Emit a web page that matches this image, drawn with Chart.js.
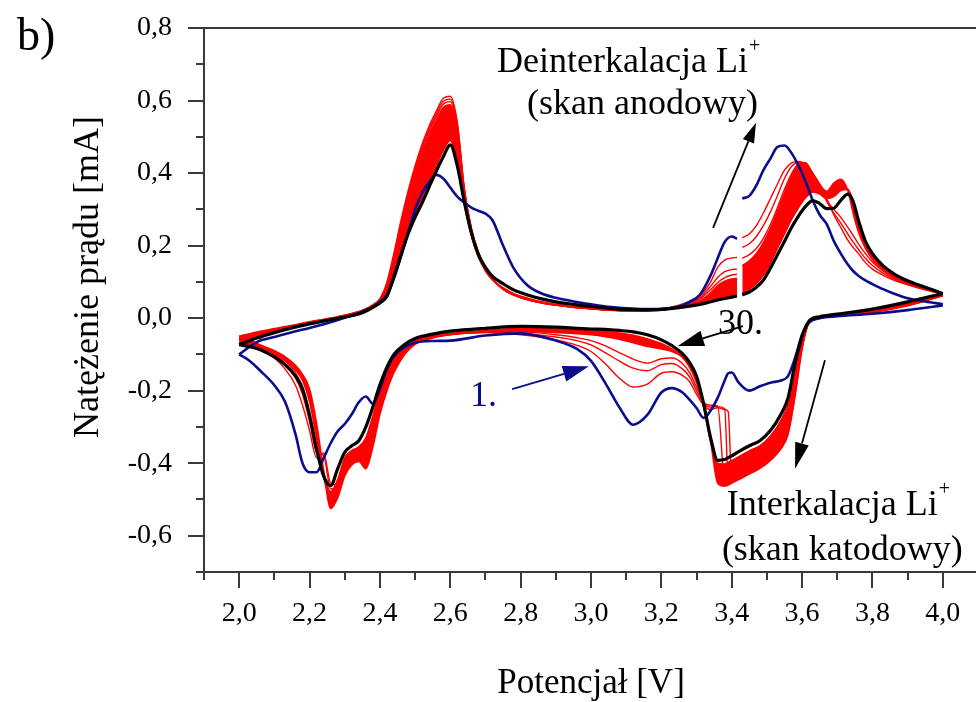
<!DOCTYPE html>
<html>
<head>
<meta charset="utf-8">
<title>Woltamperometria cykliczna</title>
<script src="https://cdn.jsdelivr.net/npm/chart.js@4.4.1/dist/chart.umd.min.js"></script>
<style>
  html, body { margin: 0; padding: 0; background: #fff; overflow: hidden; }
  #wrap { position: relative; width: 1000px; height: 702px; }
</style>
</head>
<body>
<div id="wrap"><canvas id="cv" width="1000" height="702"></canvas></div>
<script>
(function () {
  'use strict';

  // Potential grid [V] of the anodic (upper) branch, null entry = recording gap
  var ANODIC_V = [
    2.00, 2.05, 2.10, 2.15, 2.20, 2.25, 2.30, 2.35, 2.38, 2.40,
    2.42, 2.44, 2.46, 2.48, 2.50, 2.52, 2.54, 2.56, 2.58, 2.60,
    2.62, 2.64, 2.66, 2.68, 2.70, 2.72, 2.75, 2.78, 2.82, 2.86,
    2.90, 2.95, 3.00, 3.05, 3.10, 3.15, 3.20, 3.25, 3.28, 3.31,
    3.34, 3.36, 3.38, 3.40, 3.415, 3.42, 3.43, 3.45, 3.47, 3.49,
    3.51, 3.53, 3.55, 3.57, 3.59, 3.61, 3.63, 3.65, 3.67, 3.69,
    3.71, 3.73, 3.745, 3.76, 3.78, 3.80, 3.83, 3.86, 3.90, 3.95,
    4.00
  ];

  // Potential grid [V] of the cathodic (lower) branch
  var CATHODIC_V = [
    2.00, 2.03, 2.06, 2.10, 2.13, 2.16, 2.18, 2.20, 2.22, 2.24,
    2.26, 2.28, 2.30, 2.32, 2.34, 2.36, 2.38, 2.40, 2.42, 2.44,
    2.47, 2.50, 2.55, 2.60, 2.70, 2.80, 2.90, 2.96, 3.00, 3.04,
    3.08, 3.12, 3.16, 3.20, 3.23, 3.26, 3.28, 3.30, 3.32, 3.34,
    3.36, 3.38, 3.39, 3.40, 3.42, 3.45, 3.48, 3.51, 3.54, 3.56,
    3.58, 3.60, 3.62, 3.65, 3.70, 3.80, 3.90, 4.00
  ];

  // Current [mA] - cycle 1
  var CYCLE1_ANODIC = [
    -0.100, -0.066, -0.052, -0.039, -0.027, -0.014, 0.001, 0.018, 0.030, 0.045,
    0.065, 0.110, 0.170, 0.235, 0.300, 0.345, 0.375, 0.395, 0.385, 0.360,
    0.335, 0.318, 0.305, 0.296, 0.288, 0.270, 0.200, 0.138, 0.090, 0.068,
    0.056, 0.046, 0.038, 0.031, 0.027, 0.025, 0.026, 0.032, 0.045, 0.065,
    0.118, 0.165, 0.210, 0.225, 0.219, null, 0.330, 0.337, 0.366, 0.408,
    0.440, 0.472, 0.476, 0.455, 0.420, 0.377, 0.325, 0.285, 0.259, 0.213,
    0.178, 0.148, 0.130, 0.117, 0.104, 0.094, 0.080, 0.068, 0.055, 0.046,
    0.038
  ];
  var CYCLE1_CATHODIC = [
    -0.100, -0.118, -0.145, -0.185, -0.230, -0.320, -0.400, -0.425, -0.425, -0.386,
    -0.345, -0.312, -0.292, -0.265, -0.232, -0.216, -0.236, -0.195, -0.140, -0.105,
    -0.080, -0.068, -0.063, -0.062, -0.048, -0.042, -0.062, -0.085, -0.118, -0.178,
    -0.245, -0.294, -0.267, -0.205, -0.193, -0.205, -0.225, -0.248, -0.275, -0.255,
    -0.220, -0.172, -0.152, -0.150, -0.178, -0.200, -0.188, -0.178, -0.172, -0.160,
    -0.110, -0.045, -0.012, 0.000, 0.005, 0.012, 0.022, 0.035
  ];

  // Cycles 2-4 (drawn as single thin lines)
  var CYCLE2_ANODIC = [
    -0.060, -0.045, -0.034, -0.024, -0.013, -0.004, 0.006, 0.021, 0.037, 0.054,
    0.100, 0.180, 0.270, 0.350, 0.420, 0.480, 0.530, 0.570, 0.606, 0.612,
    0.540, 0.358, 0.248, 0.182, 0.139, 0.108, 0.080, 0.064, 0.051, 0.042,
    0.036, 0.030, 0.026, 0.022, 0.021, 0.021, 0.026, 0.036, 0.046, 0.062,
    0.100, 0.140, 0.160, 0.166, 0.167, null, 0.222, 0.232, 0.255, 0.290,
    0.330, 0.370, 0.408, 0.428, 0.432, 0.425, 0.400, 0.370, 0.330, 0.285,
    0.250, 0.215, 0.195, 0.178, 0.153, 0.135, 0.118, 0.105, 0.092, 0.078,
    0.066
  ];
  var CYCLE2_CATHODIC = [
    -0.060, -0.072, -0.086, -0.110, -0.140, -0.185, -0.240, -0.310, -0.385, -0.372,
    -0.455, -0.460, -0.425, -0.402, -0.390, -0.385, -0.310, -0.225, -0.165, -0.120,
    -0.085, -0.064, -0.050, -0.045, -0.040, -0.046, -0.060, -0.075, -0.092, -0.125,
    -0.165, -0.190, -0.182, -0.152, -0.148, -0.158, -0.175, -0.210, -0.240, -0.252,
    -0.247, -0.252, -0.258, -0.445, -0.442, -0.425, -0.408, -0.388, -0.356, -0.312,
    -0.200, -0.078, -0.014, 0.000, 0.006, 0.016, 0.034, 0.062
  ];
  var CYCLE3_ANODIC = [
    -0.058, -0.043, -0.033, -0.023, -0.012, -0.003, 0.007, 0.021, 0.036, 0.052,
    0.094, 0.174, 0.262, 0.342, 0.412, 0.472, 0.522, 0.562, 0.598, 0.604,
    0.534, 0.355, 0.247, 0.181, 0.139, 0.108, 0.080, 0.064, 0.051, 0.042,
    0.036, 0.030, 0.026, 0.022, 0.020, 0.020, 0.024, 0.033, 0.042, 0.057,
    0.088, 0.112, 0.128, 0.134, 0.135, null, 0.195, 0.205, 0.225, 0.255,
    0.293, 0.338, 0.385, 0.418, 0.430, 0.426, 0.400, 0.365, 0.322, 0.290,
    0.262, 0.232, 0.210, 0.190, 0.165, 0.145, 0.124, 0.108, 0.093, 0.079,
    0.066
  ];
  var CYCLE3_CATHODIC = [
    -0.058, -0.069, -0.080, -0.100, -0.125, -0.165, -0.210, -0.285, -0.370, -0.378,
    -0.470, -0.470, -0.420, -0.400, -0.392, -0.395, -0.330, -0.240, -0.180, -0.130,
    -0.090, -0.066, -0.050, -0.044, -0.039, -0.042, -0.052, -0.062, -0.074, -0.095,
    -0.118, -0.138, -0.145, -0.128, -0.125, -0.140, -0.162, -0.200, -0.236, -0.245,
    -0.244, -0.250, -0.445, -0.448, -0.440, -0.426, -0.410, -0.390, -0.358, -0.315,
    -0.205, -0.080, -0.013, 0.000, 0.006, 0.017, 0.035, 0.062
  ];
  var CYCLE4_ANODIC = [
    -0.055, -0.041, -0.031, -0.022, -0.011, -0.002, 0.008, 0.021, 0.035, 0.050,
    0.090, 0.168, 0.255, 0.335, 0.405, 0.465, 0.515, 0.555, 0.590, 0.597,
    0.528, 0.352, 0.246, 0.180, 0.138, 0.108, 0.080, 0.064, 0.051, 0.042,
    0.036, 0.030, 0.026, 0.022, 0.020, 0.020, 0.023, 0.032, 0.040, 0.053,
    0.078, 0.098, 0.112, 0.119, 0.121, null, 0.165, 0.175, 0.192, 0.220,
    0.258, 0.305, 0.355, 0.398, 0.425, 0.428, 0.398, 0.362, 0.325, 0.300,
    0.278, 0.250, 0.228, 0.205, 0.178, 0.155, 0.130, 0.112, 0.095, 0.080,
    0.067
  ];
  var CYCLE4_CATHODIC = [
    -0.055, -0.066, -0.079, -0.096, -0.118, -0.150, -0.190, -0.260, -0.355, -0.440,
    -0.500, -0.480, -0.425, -0.402, -0.394, -0.405, -0.345, -0.255, -0.190, -0.140,
    -0.095, -0.069, -0.053, -0.045, -0.038, -0.038, -0.046, -0.054, -0.062, -0.076,
    -0.095, -0.113, -0.124, -0.112, -0.110, -0.125, -0.150, -0.190, -0.232, -0.240,
    -0.242, -0.448, -0.452, -0.450, -0.442, -0.428, -0.412, -0.391, -0.359, -0.318,
    -0.210, -0.082, -0.012, 0.000, 0.006, 0.017, 0.035, 0.062
  ];

  // Cycles 5 and 29: edges of the dense band formed by cycles 5-29
  var CYCLE5_ANODIC = [
    -0.050, -0.038, -0.029, -0.020, -0.010, -0.002, 0.008, 0.020, 0.034, 0.048,
    0.085, 0.160, 0.245, 0.325, 0.395, 0.455, 0.505, 0.545, 0.580, 0.588,
    0.520, 0.350, 0.245, 0.180, 0.138, 0.108, 0.080, 0.064, 0.051, 0.042,
    0.036, 0.030, 0.026, 0.022, 0.020, 0.020, 0.022, 0.030, 0.037, 0.048,
    0.070, 0.090, 0.102, 0.108, 0.110, null, 0.145, 0.158, 0.178, 0.208,
    0.248, 0.295, 0.345, 0.392, 0.420, 0.428, 0.392, 0.368, 0.350, 0.372,
    0.383, 0.352, 0.290, 0.238, 0.192, 0.162, 0.133, 0.113, 0.096, 0.081,
    0.068
  ];
  var CYCLE5_CATHODIC = [
    -0.050, -0.060, -0.074, -0.090, -0.106, -0.130, -0.155, -0.195, -0.290, -0.420,
    -0.525, -0.495, -0.435, -0.405, -0.395, -0.415, -0.355, -0.265, -0.200, -0.150,
    -0.100, -0.072, -0.055, -0.046, -0.038, -0.036, -0.040, -0.043, -0.046, -0.051,
    -0.058, -0.068, -0.078, -0.085, -0.092, -0.108, -0.135, -0.178, -0.245, -0.340,
    -0.455, -0.463, -0.460, -0.455, -0.445, -0.430, -0.414, -0.392, -0.360, -0.320,
    -0.215, -0.085, -0.012, 0.000, 0.007, 0.018, 0.036, 0.062
  ];
  var CYCLE29_ANODIC = [
    -0.070, -0.052, -0.037, -0.024, -0.013, -0.003, 0.006, 0.018, 0.033, 0.046,
    0.068, 0.125, 0.185, 0.242, 0.290, 0.332, 0.377, 0.420, 0.462, 0.490,
    0.425, 0.315, 0.228, 0.168, 0.130, 0.105, 0.084, 0.068, 0.055, 0.045,
    0.038, 0.032, 0.027, 0.023, 0.021, 0.021, 0.023, 0.029, 0.034, 0.040,
    0.048, 0.054, 0.058, 0.062, 0.065, null, 0.070, 0.080, 0.095, 0.118,
    0.152, 0.192, 0.232, 0.272, 0.305, 0.332, 0.348, 0.342, 0.330, 0.335,
    0.352, 0.355, 0.322, 0.268, 0.210, 0.175, 0.142, 0.120, 0.100, 0.082,
    0.066
  ];
  var CYCLE29_CATHODIC = [
    -0.070, -0.074, -0.082, -0.098, -0.116, -0.143, -0.172, -0.230, -0.330, -0.425,
    -0.478, -0.445, -0.385, -0.365, -0.355, -0.330, -0.270, -0.200, -0.150, -0.110,
    -0.080, -0.062, -0.050, -0.042, -0.034, -0.029, -0.030, -0.033, -0.035, -0.037,
    -0.041, -0.047, -0.057, -0.070, -0.085, -0.105, -0.128, -0.165, -0.240, -0.340,
    -0.400, -0.402, -0.398, -0.393, -0.382, -0.366, -0.352, -0.325, -0.282, -0.235,
    -0.140, -0.055, -0.010, 0.002, 0.009, 0.022, 0.042, 0.066
  ];

  // Current [mA] - cycle 30
  var CYCLE30_ANODIC = [
    -0.073, -0.055, -0.040, -0.027, -0.016, -0.006, 0.003, 0.015, 0.030, 0.042,
    0.060, 0.115, 0.175, 0.232, 0.278, 0.318, 0.362, 0.405, 0.445, 0.478,
    0.420, 0.320, 0.235, 0.175, 0.140, 0.115, 0.095, 0.078, 0.064, 0.053,
    0.045, 0.038, 0.032, 0.027, 0.024, 0.023, 0.024, 0.029, 0.033, 0.038,
    0.045, 0.050, 0.054, 0.058, 0.061, null, 0.064, 0.072, 0.085, 0.105,
    0.138, 0.175, 0.212, 0.250, 0.282, 0.308, 0.324, 0.316, 0.302, 0.303,
    0.325, 0.342, 0.322, 0.270, 0.212, 0.178, 0.145, 0.123, 0.103, 0.085,
    0.068
  ];
  var CYCLE30_CATHODIC = [
    -0.073, -0.079, -0.087, -0.107, -0.128, -0.160, -0.195, -0.268, -0.362, -0.435,
    -0.462, -0.415, -0.370, -0.352, -0.338, -0.300, -0.245, -0.184, -0.135, -0.100,
    -0.073, -0.056, -0.044, -0.036, -0.028, -0.023, -0.025, -0.028, -0.030, -0.031,
    -0.034, -0.038, -0.046, -0.060, -0.076, -0.098, -0.122, -0.160, -0.235, -0.330,
    -0.392, -0.390, -0.385, -0.380, -0.368, -0.352, -0.338, -0.310, -0.265, -0.220,
    -0.125, -0.050, -0.008, 0.004, 0.011, 0.025, 0.045, 0.068
  ];

  var BLUE = '#0c0c8e';
  var RED = '#ff0000';
  var BLACK = '#000000';
  var AXIS = '#3a3a3a';
  var SERIF = '"Liberation Serif", "Times New Roman", serif';

  function pts(xs, ys) {
    return xs.map(function (x, i) { return { x: x, y: ys[i] }; });
  }

  function branch(label, xs, ys, color, width, order) {
    return {
      label: label,
      data: pts(xs, ys),
      borderColor: color,
      backgroundColor: color,
      borderWidth: width,
      pointRadius: 0,
      fill: false,
      order: order,
      spanGaps: false,
      cubicInterpolationMode: 'monotone'
    };
  }

  var datasets = [
    branch('30 anod', ANODIC_V, CYCLE30_ANODIC, BLACK, 3.2, 0),
    branch('30 katod', CATHODIC_V, CYCLE30_CATHODIC, BLACK, 3.2, 0),
    branch('1 anod', ANODIC_V, CYCLE1_ANODIC, BLUE, 2.6, 1),
    branch('1 katod', CATHODIC_V, CYCLE1_CATHODIC, BLUE, 2.6, 1),
    branch('2 anod', ANODIC_V, CYCLE2_ANODIC, RED, 1.4, 2),
    branch('2 katod', CATHODIC_V, CYCLE2_CATHODIC, RED, 1.4, 2),
    branch('3 anod', ANODIC_V, CYCLE3_ANODIC, RED, 1.4, 2),
    branch('3 katod', CATHODIC_V, CYCLE3_CATHODIC, RED, 1.4, 2),
    branch('4 anod', ANODIC_V, CYCLE4_ANODIC, RED, 1.4, 2),
    branch('4 katod', CATHODIC_V, CYCLE4_CATHODIC, RED, 1.4, 2),
    branch('5 anod', ANODIC_V, CYCLE5_ANODIC, RED, 1.6, 3),
    branch('5 katod', CATHODIC_V, CYCLE5_CATHODIC, RED, 1.6, 3),
    branch('29 anod', ANODIC_V, CYCLE29_ANODIC, RED, 1.6, 3),
    branch('29 katod', CATHODIC_V, CYCLE29_CATHODIC, RED, 1.6, 3)
  ];
  // cycles 5..29 overlap into a solid band
  datasets[10].fill = { target: 12 };
  datasets[11].fill = { target: 13 };

  function isMajor(v) { return Math.abs(Math.round(v * 10)) % 2 === 0; }

  function fmtTick(v) {
    if (!isMajor(v)) return '';
    return (Math.round(v * 10) / 10).toFixed(1).replace('.', ',');
  }

  // Arrows and notes, anchored in axis units (V, mA)
  var ARROWS = [
    { from: [3.347, 0.249], to: [3.469, 0.539], color: BLACK, head: 20, half: 6 },
    { from: [3.432, -0.022], to: [3.247, -0.077], color: BLACK, head: 26, half: 8 },
    { from: [2.776, -0.196], to: [2.994, -0.133], color: BLUE, head: 26, half: 8 },
    { from: [3.665, -0.116], to: [3.580, -0.415], color: BLACK, head: 26, half: 7 }
  ];
  var NOTES = [
    { text: 'Deinterkalacja Li', sup: '+', x: 2.733, y: 0.678, color: BLACK },
    { text: '(skan anodowy)', x: 2.818, y: 0.564, color: BLACK },
    { text: '30.', x: 3.361, y: -0.044, color: BLACK },
    { text: '1.', x: 2.656, y: -0.243, color: BLUE },
    { text: 'Interkalacja Li', sup: '+', x: 3.386, y: -0.542, color: BLACK },
    { text: '(skan katodowy)', x: 3.372, y: -0.667, color: BLACK }
  ];

  function drawArrow(ctx, x0, y0, x1, y1, color, head, half) {
    var ang = Math.atan2(y1 - y0, x1 - x0);
    var bx = x1 - Math.cos(ang) * head, by = y1 - Math.sin(ang) * head;
    ctx.strokeStyle = color;
    ctx.fillStyle = color;
    ctx.lineWidth = 1.8;
    ctx.beginPath();
    ctx.moveTo(x0, y0);
    ctx.lineTo(bx, by);
    ctx.stroke();
    ctx.beginPath();
    ctx.moveTo(x1, y1);
    ctx.lineTo(bx + Math.sin(ang) * half, by - Math.cos(ang) * half);
    ctx.lineTo(bx - Math.sin(ang) * half, by + Math.cos(ang) * half);
    ctx.closePath();
    ctx.fill();
  }

  var frame = {
    id: 'frame',
    afterDraw: function (chart) {
      var ctx = chart.ctx, a = chart.chartArea;
      var xs = chart.scales.x, ys = chart.scales.y;
      ctx.save();

      // frame and tick marks
      ctx.strokeStyle = AXIS;
      ctx.lineWidth = 2;
      ctx.beginPath();
      ctx.moveTo(a.left, a.top); ctx.lineTo(a.right, a.top);
      ctx.moveTo(a.left, a.top); ctx.lineTo(a.left, a.bottom);
      ctx.moveTo(a.left, a.bottom); ctx.lineTo(a.right, a.bottom);
      xs.ticks.forEach(function (t) {
        var px = Math.round(xs.getPixelForValue(t.value));
        ctx.moveTo(px, a.bottom);
        ctx.lineTo(px, a.bottom + (isMajor(t.value) ? 16 : 8));
      });
      ys.ticks.forEach(function (t) {
        var py = Math.round(ys.getPixelForValue(t.value));
        ctx.moveTo(a.left, py);
        ctx.lineTo(a.left - (isMajor(t.value) ? 16 : 8), py);
      });
      ctx.stroke();

      ARROWS.forEach(function (ar) {
        drawArrow(ctx,
          xs.getPixelForValue(ar.from[0]), ys.getPixelForValue(ar.from[1]),
          xs.getPixelForValue(ar.to[0]), ys.getPixelForValue(ar.to[1]),
          ar.color, ar.head, ar.half);
      });

      ctx.textBaseline = 'alphabetic';
      ctx.textAlign = 'left';
      NOTES.forEach(function (n) {
        var px = xs.getPixelForValue(n.x), py = ys.getPixelForValue(n.y);
        ctx.fillStyle = n.color;
        ctx.font = '36px ' + SERIF;
        ctx.fillText(n.text, px, py);
        if (n.sup) {
          var w = ctx.measureText(n.text).width;
          ctx.font = '20px ' + SERIF;
          ctx.fillText(n.sup, px + w + 1, py - 20);
        }
      });

      // axis titles and panel letter
      ctx.fillStyle = BLACK;
      ctx.font = '35px ' + SERIF;
      ctx.textAlign = 'center';
      ctx.fillText('Potencjał [V]', (a.left + a.right) / 2, 693);
      ctx.save();
      ctx.translate(98, 277);
      ctx.rotate(-Math.PI / 2);
      ctx.font = '36px ' + SERIF;
      ctx.fillText('Natężenie prądu [mA]', 0, 0);
      ctx.restore();
      ctx.textAlign = 'left';
      ctx.font = '46px ' + SERIF;
      ctx.fillText('b)', 17, 50);

      ctx.restore();
    }
  };

  var tickFont = { family: SERIF, size: 28 };

  new Chart(document.getElementById('cv'), {
    type: 'line',
    data: { datasets: datasets },
    options: {
      responsive: false,
      animation: false,
      events: [],
      layout: { padding: { left: 0, right: 22, top: 28, bottom: 0 } },
      plugins: { legend: { display: false }, tooltip: { enabled: false } },
      scales: {
        x: {
          type: 'linear',
          min: 1.9,
          max: 4.1,
          afterFit: function (s) {
            s.height = 130;
            s.paddingLeft = 0;
            s.paddingRight = 0;
          },
          grid: { display: false },
          border: { display: false },
          ticks: {
            stepSize: 0.1, autoSkip: false, maxRotation: 0, minRotation: 0,
            padding: 17, color: BLACK, font: tickFont, callback: fmtTick
          }
        },
        y: {
          type: 'linear',
          min: -0.7,
          max: 0.8,
          afterFit: function (s) {
            s.width = 204;
            s.paddingTop = 0;
            s.paddingBottom = 0;
          },
          grid: { display: false },
          border: { display: false },
          ticks: {
            stepSize: 0.1, autoSkip: false,
            padding: 24, color: BLACK, font: tickFont, callback: fmtTick
          }
        }
      }
    },
    plugins: [frame]
  });
})();
</script>
</body>
</html>
